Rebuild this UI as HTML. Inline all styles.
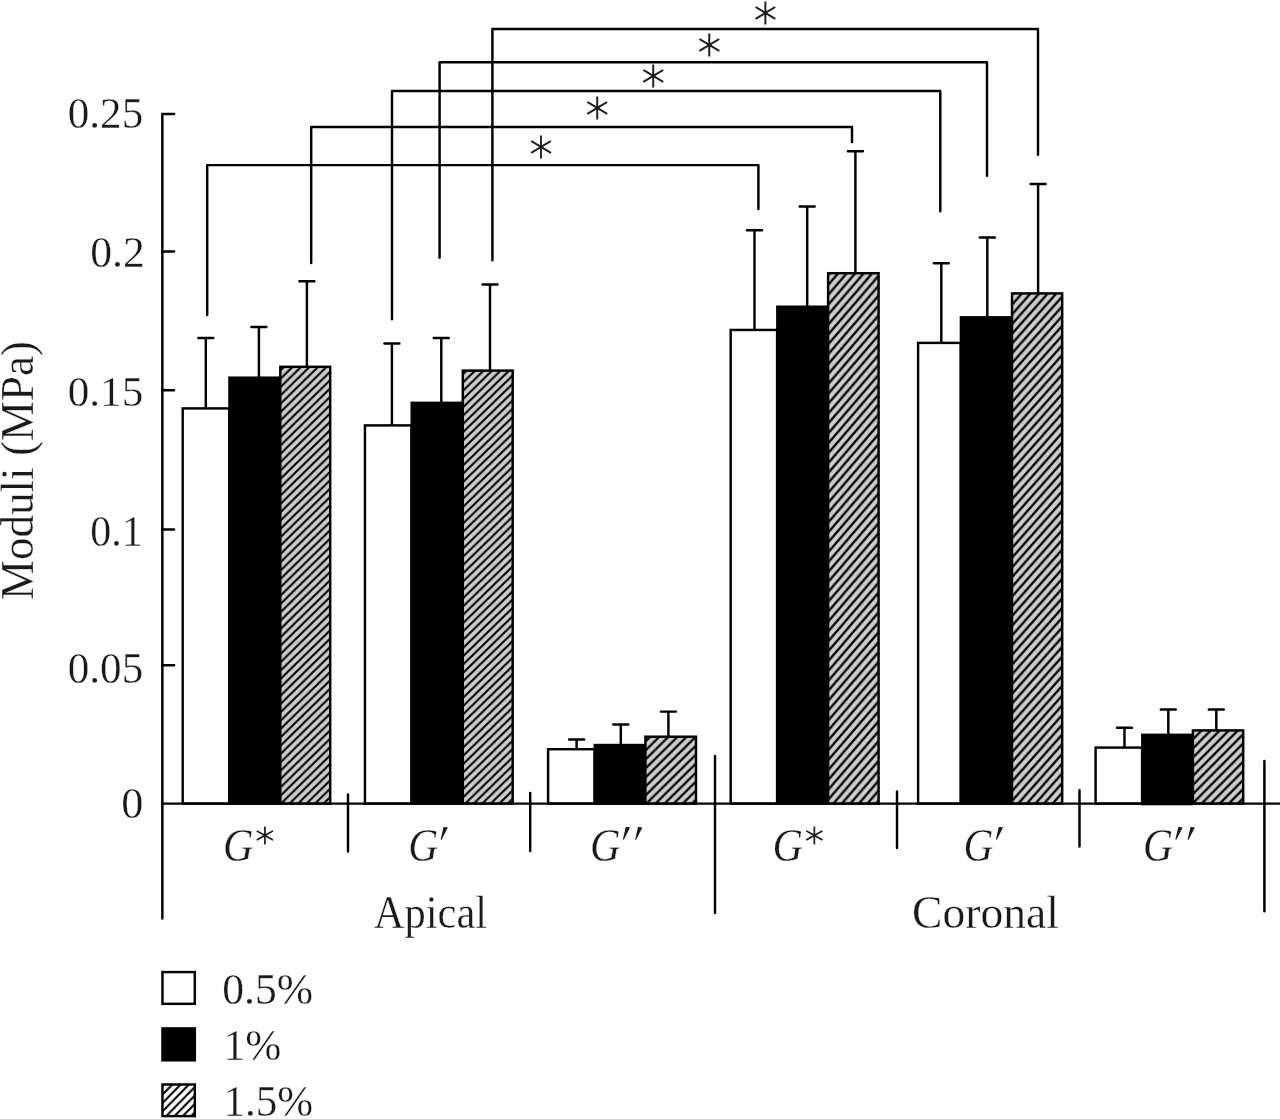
<!DOCTYPE html>
<html lang="en">
<head>
<meta charset="utf-8">
<title>Moduli (MPa) – Apical vs Coronal</title>
<style>
html,body{margin:0;padding:0;background:#fff;}
body{width:1280px;height:1119px;overflow:hidden;}
svg{display:block;}
text{font-family:"Liberation Serif","DejaVu Serif",serif;fill:#1a1a1a;stroke:#fff;stroke-width:0.3px;}.it{font-style:italic;}.st{font-family:"DejaVu Sans Light","DejaVu Sans",sans-serif;font-weight:200;font-style:normal;stroke:#1a1a1a;stroke-width:0.9px;}.ss{stroke-width:0.8px;}
</style>
</head>
<body>
<svg width="1280" height="1119" viewBox="0 0 1280 1119" role="img" aria-label="Bar chart of moduli (MPa) for apical and coronal samples">
<defs>
<pattern id="h0" patternUnits="userSpaceOnUse" x="280.9" y="503.46" width="8.5" height="8.34"><rect width="8.5" height="8.34" fill="#cccccc"/><path d="M-8.5 8.34L8.5 -8.34M-8.5 16.68L17 -8.34M0 16.68L17 0" stroke="#000" stroke-width="2.14" fill="none"/></pattern>
<pattern id="h1" patternUnits="userSpaceOnUse" x="463.4" y="498.26" width="8.5" height="8.3"><rect width="8.5" height="8.3" fill="#cccccc"/><path d="M-8.5 8.3L8.5 -8.3M-8.5 16.6L17 -8.3M0 16.6L17 0" stroke="#000" stroke-width="2.14" fill="none"/></pattern>
<pattern id="h2" patternUnits="userSpaceOnUse" x="646.25" y="740.7" width="9.1" height="9"><rect width="9.1" height="9" fill="#cccccc"/><path d="M-9.1 9L9.1 -9M-9.1 18L18.2 -9M0 18L18.2 0" stroke="#000" stroke-width="2.3" fill="none"/></pattern>
<pattern id="h3" patternUnits="userSpaceOnUse" x="829.4" y="501.35" width="8.5" height="9.9"><rect width="8.5" height="9.9" fill="#cccccc"/><path d="M-8.5 9.9L8.5 -9.9M-8.5 19.8L17 -9.9M0 19.8L17 0" stroke="#000" stroke-width="2.32" fill="none"/></pattern>
<pattern id="h4" patternUnits="userSpaceOnUse" x="1012.9" y="498.27" width="8.6" height="9.73"><rect width="8.6" height="9.73" fill="#cccccc"/><path d="M-8.6 9.73L8.6 -9.73M-8.6 19.46L17.2 -9.73M0 19.46L17.2 0" stroke="#000" stroke-width="2.32" fill="none"/></pattern>
<pattern id="h5" patternUnits="userSpaceOnUse" x="1194.06" y="728.96" width="9.05" height="9.14"><rect width="9.05" height="9.14" fill="#cccccc"/><path d="M-9.05 9.14L9.05 -9.14M-9.05 18.28L18.1 -9.14M0 18.28L18.1 0" stroke="#000" stroke-width="2.32" fill="none"/></pattern>
<pattern id="h6" patternUnits="userSpaceOnUse" x="164.06" y="1084.53" width="8.3" height="8.44"><rect width="8.3" height="8.44" fill="#fff"/><path d="M-8.3 8.44L8.3 -8.44M-8.3 16.88L16.6 -8.44M0 16.88L16.6 0" stroke="#000" stroke-width="2.13" fill="none"/></pattern>
</defs>
<rect width="1280" height="1119" fill="#fff"/>
<g fill="none" stroke="#000" stroke-width="2.45" stroke-linecap="round" stroke-linejoin="round">
<path d="M205.8 408.4V338M198.3 338H213.3"/>
<path d="M258.9 376.45V326.9M251.4 326.9H266.4"/>
<path d="M306.9 366.8V281.3M299.4 281.3H314.4"/>
<rect x="182.7" y="408.4" width="46.5" height="395.2" fill="#fff" stroke-linejoin="miter"/>
<rect x="228.2" y="376.45" width="52.1" height="428.38" fill="#000" stroke="none"/>
<rect x="280.3" y="366.8" width="49.9" height="436.8" fill="url(#h0)" stroke-linejoin="miter"/>
<path d="M391.9 425.4V343.4M384.4 343.4H399.4"/>
<path d="M441.3 401.6V337.9M433.8 337.9H448.8"/>
<path d="M490 370.6V284.5M482.5 284.5H497.5"/>
<rect x="364.95" y="425.4" width="46.55" height="378.2" fill="#fff" stroke-linejoin="miter"/>
<rect x="410.5" y="401.6" width="52.3" height="403.23" fill="#000" stroke="none"/>
<rect x="462.8" y="370.6" width="49.9" height="433" fill="url(#h1)" stroke-linejoin="miter"/>
<path d="M576.6 749.2V739.4M569.1 739.4H584.1"/>
<path d="M620.8 743.8V724.5M613.3 724.5H628.3"/>
<path d="M668.4 736.7V711.6M660.9 711.6H675.9"/>
<rect x="548.1" y="749.2" width="46.5" height="54.4" fill="#fff" stroke-linejoin="miter"/>
<rect x="593.6" y="743.8" width="51.8" height="61.03" fill="#000" stroke="none"/>
<rect x="645.4" y="736.7" width="50.6" height="66.9" fill="url(#h2)" stroke-linejoin="miter"/>
<path d="M754.5 329.95V230.2M747 230.2H762"/>
<path d="M807.2 305.5V206.4M799.7 206.4H814.7"/>
<path d="M855.4 273.2V151.2M847.9 151.2H862.9"/>
<rect x="730.7" y="329.95" width="46.4" height="473.65" fill="#fff" stroke-linejoin="miter"/>
<rect x="776.1" y="305.5" width="52" height="499.33" fill="#000" stroke="none"/>
<rect x="828.1" y="273.2" width="50.5" height="530.4" fill="url(#h3)" stroke-linejoin="miter"/>
<path d="M941.3 342.9V263.3M933.8 263.3H948.8"/>
<path d="M987.3 316.1V237.5M979.8 237.5H994.8"/>
<path d="M1038.1 293.4V184M1030.6 184H1045.6"/>
<rect x="918.1" y="342.9" width="42.6" height="460.7" fill="#fff" stroke-linejoin="miter"/>
<rect x="959.7" y="316.1" width="52.3" height="488.73" fill="#000" stroke="none"/>
<rect x="1012" y="293.4" width="50.2" height="510.2" fill="url(#h4)" stroke-linejoin="miter"/>
<path d="M1124.5 747.6V727.8M1117 727.8H1132"/>
<path d="M1168.3 733.6V709.4M1160.8 709.4H1175.8"/>
<path d="M1216.3 730.4V709.5M1208.8 709.5H1223.8"/>
<rect x="1095.6" y="747.6" width="46.5" height="56" fill="#fff" stroke-linejoin="miter"/>
<rect x="1141.1" y="733.6" width="51.8" height="71.7" fill="#000" stroke="none"/>
<rect x="1192.9" y="730.4" width="50.3" height="73.2" fill="url(#h5)" stroke-linejoin="miter"/>
<path d="M174.1 113.9H162.35V918.62" stroke-linejoin="miter"/>
<path d="M162.35 251.4H174.1M162.35 390.3H174.1M162.35 529.4H174.1M162.35 665.2H174.1"/>
<path d="M162.35 803.6H1282"/>
<path d="M348 794.38V851.62M530.2 793.08V851.12M715 756.08V913.12M897 791.38V848.12M1079.5 790.12V846.62M1264.4 761.08V911.23"/>
<path d="M207.2 315.12V165.1H758.4V209.03"/>
<path d="M311.2 262.93V127H852V141.93"/>
<path d="M392 319.32V90.9H940.3V211.32"/>
<path d="M439.6 257.82V62.3H987V175.82"/>
<path d="M492.4 260.32V28.9H1038V154.82"/>
<rect x="162.47" y="972.08" width="32.35" height="31.75" fill="#fff" stroke-linejoin="miter"/>
<rect x="162.47" y="1028.42" width="32.35" height="31.9" fill="#000" stroke-linejoin="miter"/>
<rect x="162.47" y="1084.47" width="32.35" height="31.65" fill="url(#h6)" stroke-linejoin="miter"/>
</g>
<text transform="translate(67.75 128.35) scale(0.9835 1)" font-size="43.85">0.25</text>
<text transform="translate(90.25 266.75) scale(0.9941 1)" font-size="44">0.2</text>
<text transform="translate(67.75 405.9) scale(1.0023 1)" font-size="43.03">0.15</text>
<text transform="translate(90.25 546.25) scale(0.9707 1)" font-size="43.25">0.1</text>
<text transform="translate(67.75 683.4) scale(0.9852 1)" font-size="43.78">0.05</text>
<text transform="translate(121.25 818.4) scale(1.0023 1)" font-size="44.15">0</text>
<text transform="translate(32.85 600) rotate(-90) scale(0.9827 1)" font-size="45.85">Moduli (MPa)</text>
<text class="it" x="223" y="860.65" font-size="45.91"><tspan textLength="30.53" lengthAdjust="spacingAndGlyphs">G</tspan><tspan class="st ss" x="255.55" y="855.3" font-size="37.67">*</tspan></text>
<text class="it" x="408.25" y="860.65" font-size="45.91"><tspan textLength="30.01" lengthAdjust="spacingAndGlyphs">G</tspan><tspan stroke-width="1.3" x="429.9" y="864.85" font-size="60.87" rotate="7">′</tspan></text>
<text class="it" x="590" y="860.65" font-size="45.91"><tspan textLength="30.53" lengthAdjust="spacingAndGlyphs">G</tspan><tspan stroke-width="1.3" x="612.35" y="864.85" font-size="60.87" rotate="7">′</tspan><tspan stroke-width="1.3" x="624.47" y="864.85" font-size="60.87" rotate="7">′</tspan></text>
<text class="it" x="772.5" y="860.65" font-size="45.91"><tspan textLength="30.53" lengthAdjust="spacingAndGlyphs">G</tspan><tspan class="st ss" x="805.05" y="855.3" font-size="37.67">*</tspan></text>
<text class="it" x="963.5" y="860.65" font-size="45.91"><tspan textLength="29.9" lengthAdjust="spacingAndGlyphs">G</tspan><tspan stroke-width="1.3" x="985.13" y="864.85" font-size="60.87" rotate="7">′</tspan></text>
<text class="it" x="1143" y="860.65" font-size="45.91"><tspan textLength="30.07" lengthAdjust="spacingAndGlyphs">G</tspan><tspan stroke-width="1.3" x="1164.75" y="864.85" font-size="60.87" rotate="7">′</tspan><tspan stroke-width="1.3" x="1176.9" y="864.85" font-size="60.87" rotate="7">′</tspan></text>
<text transform="translate(373.75 927.85) scale(0.9224 1)" font-size="46.12">Apical</text>
<text transform="translate(912 927.5) scale(1.0045 1)" font-size="45.44">Coronal</text>
<text class="st" transform="translate(529.55 172.2) scale(0.9502 1)" font-size="48.77">*</text>
<text class="st" transform="translate(585.8 133.2) scale(0.9502 1)" font-size="48.77">*</text>
<text class="st" transform="translate(641.8 100.7) scale(0.9508 1)" font-size="48.77">*</text>
<text class="st" transform="translate(697.8 70.2) scale(0.9525 1)" font-size="48.77">*</text>
<text class="st" transform="translate(754.05 37.55) scale(0.9454 1)" font-size="48.56">*</text>
<text transform="translate(222.25 1004.15) scale(0.9648 1)" font-size="45.27">0.5%</text>
<text transform="translate(223.5 1059.75) scale(0.9675 1)" font-size="44.75">1%</text>
<text transform="translate(223.5 1115.75) scale(0.9784 1)" font-size="44">1.5%</text>
</svg>
</body>
</html>
